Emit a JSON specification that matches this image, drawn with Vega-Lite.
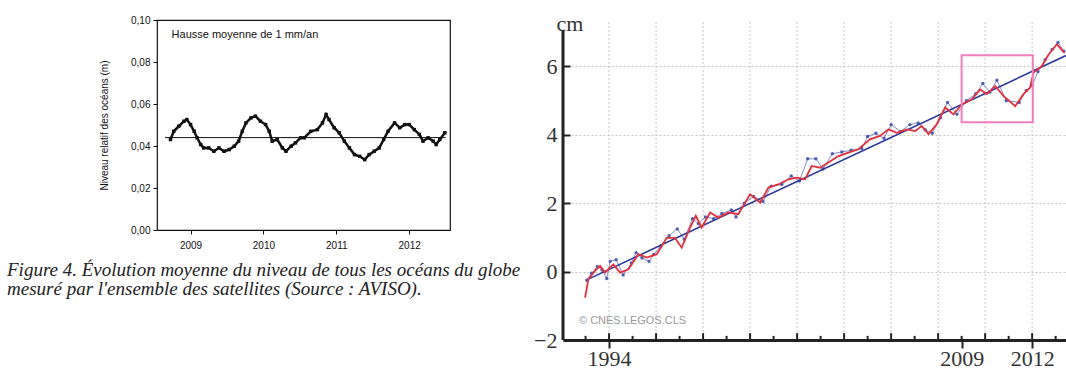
{
  "$schema": "https://vega.github.io/schema/vega-lite/v6.json",
  "background": "white",
  "padding": {"left": 6, "top": 12, "right": 0, "bottom": 0},
  "bounds": "flush",
  "spacing": 113,
  "config": {"axisX": {"grid": false}},
  "datasets": {
    "aviso": [
      {"year": 2008.725, "level": 0.0431}, {"year": 2008.77, "level": 0.047}, {"year": 2008.84, "level": 0.0494},
      {"year": 2008.91, "level": 0.0518}, {"year": 2008.95, "level": 0.0526}, {"year": 2009.0, "level": 0.0502},
      {"year": 2009.05, "level": 0.047}, {"year": 2009.09, "level": 0.0439}, {"year": 2009.14, "level": 0.0407},
      {"year": 2009.18, "level": 0.0391}, {"year": 2009.25, "level": 0.0391}, {"year": 2009.32, "level": 0.0375},
      {"year": 2009.39, "level": 0.0391}, {"year": 2009.46, "level": 0.0375}, {"year": 2009.53, "level": 0.0383},
      {"year": 2009.6, "level": 0.0399}, {"year": 2009.66, "level": 0.0423}, {"year": 2009.71, "level": 0.047},
      {"year": 2009.76, "level": 0.051}, {"year": 2009.83, "level": 0.0534}, {"year": 2009.89, "level": 0.0542},
      {"year": 2009.96, "level": 0.0518}, {"year": 2010.03, "level": 0.0502}, {"year": 2010.08, "level": 0.047},
      {"year": 2010.12, "level": 0.0423}, {"year": 2010.19, "level": 0.0431}, {"year": 2010.26, "level": 0.0391},
      {"year": 2010.31, "level": 0.0375}, {"year": 2010.38, "level": 0.0399}, {"year": 2010.44, "level": 0.0415},
      {"year": 2010.51, "level": 0.0439}, {"year": 2010.56, "level": 0.0439}, {"year": 2010.65, "level": 0.047},
      {"year": 2010.74, "level": 0.0478}, {"year": 2010.81, "level": 0.051}, {"year": 2010.86, "level": 0.055},
      {"year": 2010.9, "level": 0.0526}, {"year": 2010.97, "level": 0.0487}, {"year": 2011.04, "level": 0.0463},
      {"year": 2011.11, "level": 0.0423}, {"year": 2011.18, "level": 0.0391}, {"year": 2011.25, "level": 0.0359},
      {"year": 2011.32, "level": 0.0351}, {"year": 2011.39, "level": 0.0335}, {"year": 2011.45, "level": 0.0359},
      {"year": 2011.52, "level": 0.0375}, {"year": 2011.59, "level": 0.0391}, {"year": 2011.65, "level": 0.0431},
      {"year": 2011.71, "level": 0.047}, {"year": 2011.8, "level": 0.051}, {"year": 2011.87, "level": 0.0487},
      {"year": 2011.94, "level": 0.0502}, {"year": 2012.0, "level": 0.0502}, {"year": 2012.07, "level": 0.0478},
      {"year": 2012.14, "level": 0.0455}, {"year": 2012.19, "level": 0.0423}, {"year": 2012.26, "level": 0.0439},
      {"year": 2012.33, "level": 0.0423}, {"year": 2012.37, "level": 0.0407}, {"year": 2012.42, "level": 0.0431},
      {"year": 2012.49, "level": 0.0463}
    ],
    "smooth": [
      {"year": 1992.98, "cm": -0.76}, {"year": 1993.12, "cm": -0.22}, {"year": 1993.4, "cm": 0.02},
      {"year": 1993.62, "cm": 0.17}, {"year": 1993.83, "cm": -0.03}, {"year": 1994.18, "cm": 0.21},
      {"year": 1994.47, "cm": -0.03}, {"year": 1994.82, "cm": 0.07}, {"year": 1995.25, "cm": 0.51},
      {"year": 1995.6, "cm": 0.41}, {"year": 1996.03, "cm": 0.51}, {"year": 1996.45, "cm": 0.99},
      {"year": 1996.8, "cm": 0.99}, {"year": 1997.09, "cm": 0.7}, {"year": 1997.45, "cm": 1.29},
      {"year": 1997.69, "cm": 1.63}, {"year": 1997.94, "cm": 1.29}, {"year": 1998.3, "cm": 1.73},
      {"year": 1998.65, "cm": 1.58}, {"year": 1999.08, "cm": 1.73}, {"year": 1999.5, "cm": 1.68},
      {"year": 2000.0, "cm": 2.26}, {"year": 2000.43, "cm": 2.02}, {"year": 2000.78, "cm": 2.46},
      {"year": 2001.2, "cm": 2.55}, {"year": 2001.63, "cm": 2.7}, {"year": 2001.99, "cm": 2.75},
      {"year": 2002.34, "cm": 2.7}, {"year": 2002.62, "cm": 3.09}, {"year": 2002.98, "cm": 3.04},
      {"year": 2003.33, "cm": 3.19}, {"year": 2003.76, "cm": 3.38}, {"year": 2004.18, "cm": 3.48},
      {"year": 2004.61, "cm": 3.58}, {"year": 2005.1, "cm": 3.87}, {"year": 2005.53, "cm": 3.97},
      {"year": 2005.89, "cm": 4.16}, {"year": 2006.24, "cm": 4.06}, {"year": 2006.67, "cm": 4.16},
      {"year": 2007.02, "cm": 4.11}, {"year": 2007.3, "cm": 4.26}, {"year": 2007.59, "cm": 4.02},
      {"year": 2007.94, "cm": 4.31}, {"year": 2008.3, "cm": 4.8}, {"year": 2008.65, "cm": 4.6},
      {"year": 2009.01, "cm": 4.89}, {"year": 2009.43, "cm": 5.04}, {"year": 2009.79, "cm": 5.33},
      {"year": 2010.07, "cm": 5.19}, {"year": 2010.43, "cm": 5.43}, {"year": 2010.78, "cm": 5.14},
      {"year": 2011.28, "cm": 4.84}, {"year": 2011.63, "cm": 5.19}, {"year": 2011.91, "cm": 5.38},
      {"year": 2012.06, "cm": 5.82}, {"year": 2012.41, "cm": 6.01}, {"year": 2012.7, "cm": 6.35},
      {"year": 2013.05, "cm": 6.65}, {"year": 2013.38, "cm": 6.4}
    ],
    "raw": [
      {"year": 1993.05, "cm": -0.25}, {"year": 1993.25, "cm": -0.05}, {"year": 1993.5, "cm": 0.15},
      {"year": 1993.7, "cm": 0.05}, {"year": 1993.9, "cm": -0.2}, {"year": 1994.05, "cm": 0.3},
      {"year": 1994.3, "cm": 0.35}, {"year": 1994.6, "cm": -0.1}, {"year": 1994.95, "cm": 0.25},
      {"year": 1995.15, "cm": 0.55}, {"year": 1995.4, "cm": 0.4}, {"year": 1995.7, "cm": 0.3},
      {"year": 1995.9, "cm": 0.5}, {"year": 1996.2, "cm": 0.75}, {"year": 1996.55, "cm": 1.05},
      {"year": 1996.9, "cm": 1.25}, {"year": 1997.2, "cm": 0.95}, {"year": 1997.55, "cm": 1.55},
      {"year": 1997.8, "cm": 1.4}, {"year": 1998.1, "cm": 1.6}, {"year": 1998.45, "cm": 1.55},
      {"year": 1998.8, "cm": 1.7}, {"year": 1999.2, "cm": 1.8}, {"year": 1999.4, "cm": 1.6},
      {"year": 1999.75, "cm": 2.0}, {"year": 2000.15, "cm": 2.2}, {"year": 2000.55, "cm": 2.05},
      {"year": 2000.9, "cm": 2.5}, {"year": 2001.35, "cm": 2.55}, {"year": 2001.75, "cm": 2.8},
      {"year": 2002.1, "cm": 2.65}, {"year": 2002.45, "cm": 3.3}, {"year": 2002.8, "cm": 3.3},
      {"year": 2003.1, "cm": 3.0}, {"year": 2003.5, "cm": 3.45}, {"year": 2003.9, "cm": 3.5},
      {"year": 2004.3, "cm": 3.55}, {"year": 2004.75, "cm": 3.6}, {"year": 2005.0, "cm": 3.95},
      {"year": 2005.35, "cm": 4.05}, {"year": 2005.7, "cm": 3.9}, {"year": 2006.0, "cm": 4.3},
      {"year": 2006.4, "cm": 4.1}, {"year": 2006.8, "cm": 4.3}, {"year": 2007.15, "cm": 4.35},
      {"year": 2007.45, "cm": 4.15}, {"year": 2007.75, "cm": 4.05}, {"year": 2008.1, "cm": 4.5},
      {"year": 2008.4, "cm": 4.95}, {"year": 2008.8, "cm": 4.6}, {"year": 2009.2, "cm": 5.0},
      {"year": 2009.6, "cm": 5.2}, {"year": 2009.9, "cm": 5.5}, {"year": 2010.2, "cm": 5.25},
      {"year": 2010.5, "cm": 5.6}, {"year": 2010.9, "cm": 5.0}, {"year": 2011.45, "cm": 4.95},
      {"year": 2011.75, "cm": 5.3}, {"year": 2012.0, "cm": 5.45}, {"year": 2012.25, "cm": 5.85},
      {"year": 2012.55, "cm": 6.2}, {"year": 2012.85, "cm": 6.5}, {"year": 2013.1, "cm": 6.7},
      {"year": 2013.35, "cm": 6.45}
    ],
    "trend": [
      {"year": 1993.12, "cm": -0.22}, {"year": 2013.44, "cm": 6.32}
    ],
    "years": [
      {"year": 1993}, {"year": 1994}, {"year": 1995}, {"year": 1996}, {"year": 1997}, {"year": 1998}, {"year": 1999},
      {"year": 2000}, {"year": 2001}, {"year": 2002}, {"year": 2003}, {"year": 2004}, {"year": 2005}, {"year": 2006},
      {"year": 2007}, {"year": 2008}, {"year": 2009}, {"year": 2010}, {"year": 2011}, {"year": 2012}, {"year": 2013}
    ]
  },
  "hconcat": [
    {
      "width": 293,
      "height": 210,
      "view": {"stroke": "#111", "strokeWidth": 1.2, "fill": "white"},
      "title": {
        "text": ["Figure 4. Évolution moyenne du niveau de tous les océans du globe", "mesuré par l'ensemble des satellites (Source : AVISO)."],
        "orient": "bottom",
        "anchor": "start",
        "frame": "group",
        "dx": -150,
        "offset": 11,
        "font": "Liberation Serif",
        "fontStyle": "italic",
        "fontWeight": "normal",
        "fontSize": 19,
        "lineHeight": 19,
        "color": "#222"
      },
      "layer": [
        {
          "data": {"name": "aviso"},
          "mark": {"type": "line", "color": "#111", "strokeWidth": 2.5},
          "encoding": {
            "x": {"field": "year", "type": "quantitative", "scale": {"domain": [2008.54, 2012.56], "nice": false, "zero": false},
              "axis": {"values": [2009, 2010, 2011, 2012], "format": "d", "title": null, "grid": false, "tickSize": 4, "tickColor": "#111", "domain": false,
                "labelFont": "Liberation Sans", "labelFontSize": 10, "labelColor": "#111", "labelPadding": 6}},
            "y": {"field": "level", "type": "quantitative", "scale": {"domain": [0, 0.1], "nice": false},
              "axis": {"values": [0, 0.02, 0.04, 0.06, 0.08, 0.1], "labelExpr": "replace(format(datum.value, '.2f'), '.', ',')", "grid": false,
                "tickSize": 4, "tickColor": "#111", "domain": false, "labelFont": "Liberation Sans", "labelFontSize": 10, "labelColor": "#111", "labelPadding": 3,
                "title": "Niveau relatif des océans (m)", "titleFont": "Liberation Sans", "titleFontSize": 10, "titleFontWeight": "normal", "titleColor": "#111", "titlePadding": 21}}
          }
        },
        {
          "data": {"name": "aviso"},
          "mark": {"type": "point", "shape": "square", "filled": true, "color": "#111", "size": 12, "opacity": 1},
          "encoding": {
            "x": {"field": "year", "type": "quantitative"},
            "y": {"field": "level", "type": "quantitative"}
          }
        },
        {
          "data": {"values": [{}]},
          "mark": {"type": "rule", "color": "#111", "strokeWidth": 1},
          "encoding": {
            "x": {"datum": 2008.65},
            "x2": {"datum": 2012.5},
            "y": {"datum": 0.044}
          }
        },
        {
          "data": {"values": [{}]},
          "mark": {"type": "text", "align": "left", "baseline": "middle", "font": "Liberation Sans", "fontSize": 11, "color": "#111"},
          "encoding": {
            "x": {"datum": 2008.74},
            "y": {"datum": 0.093},
            "text": {"value": "Hausse moyenne de 1 mm/an"}
          }
        }
      ]
    },
    {
      "width": 503,
      "height": 320,
      "view": {"stroke": null, "fill": "white"},
      "layer": [
        {
          "data": {"name": "years"},
          "transform": [{"filter": "datum.year % 2 == 0"}],
          "mark": {"type": "rule", "color": "#c4c4c4", "strokeWidth": 1, "strokeDash": [2, 2]},
          "encoding": {
            "x": {"field": "year", "type": "quantitative", "scale": {"domain": [1992.04, 2013.44], "nice": false, "zero": false},
              "axis": {
                "values": [1994, 2009, 2012],
                "format": "d",
                "labelOverlap": false,
                "title": null,
                "grid": false,
                "domain": true, "domainColor": "#222", "domainWidth": 3,
                "tickColor": "#222", "tickWidth": 2, "tickSize": 8,
                "labelFont": "Liberation Serif", "labelFontSize": 22, "labelColor": "#333", "labelPadding": 0
              }},
            "y": {"datum": -2},
            "y2": {"datum": 7.36}
          }
        },
        {
          "data": {"name": "raw"},
          "mark": {"type": "line", "color": "#3a4aa8", "strokeWidth": 0.9, "opacity": 0.7},
          "encoding": {
            "x": {"field": "year", "type": "quantitative"},
            "y": {"field": "cm", "type": "quantitative", "scale": {"domain": [-2, 7.36], "nice": false, "zero": false},
              "axis": {
                "values": [-2, -1.5, -1, -0.5, 0, 0.5, 1, 1.5, 2, 2.5, 3, 3.5, 4, 4.5, 5, 5.5, 6, 6.5, 7],
                "labelExpr": "datum.value % 2 == 0 ? format(datum.value, 'd') : ''",
                "labelOverlap": false,
                "domain": false,
                "tickColor": "#222", "tickWidth": 2,
                "tickSize": {"condition": {"test": "datum.value % 1 == 0", "value": -7}, "value": -4},
                "grid": true, "gridColor": "#c4c4c4", "gridDash": [2, 2], "gridWidth": 1,
                "gridOpacity": {"condition": {"test": "datum.value % 1 == 0 && datum.value > -2", "value": 1}, "value": 0},
                "labelFont": "Liberation Serif", "labelFontSize": 22, "labelColor": "#333", "labelPadding": 13,
                "title": "cm", "titleFont": "Liberation Serif", "titleFontSize": 22, "titleFontWeight": "normal", "titleColor": "#333",
                "titleAngle": 0, "titleAlign": "left", "titleBaseline": "alphabetic", "titleX": -7, "titleY": 10
              }}
          }
        },
        {
          "data": {"name": "years"},
          "transform": [{"filter": "datum.year % 2 == 0"}],
          "mark": {"type": "rule", "color": "#222", "strokeWidth": 2},
          "encoding": {
            "x": {"field": "year", "type": "quantitative"},
            "y": {"datum": -2},
            "y2": {"datum": -1.8}
          }
        },
        {
          "data": {"name": "years"},
          "transform": [{"filter": "datum.year % 2 == 1"}],
          "mark": {"type": "rule", "color": "#222", "strokeWidth": 2},
          "encoding": {
            "x": {"field": "year", "type": "quantitative"},
            "y": {"datum": -2},
            "y2": {"datum": -1.88}
          }
        },
        {
          "data": {"name": "raw"},
          "mark": {"type": "point", "filled": true, "color": "#3a4aa8", "size": 12, "opacity": 0.85},
          "encoding": {
            "x": {"field": "year", "type": "quantitative"},
            "y": {"field": "cm", "type": "quantitative"}
          }
        },
        {
          "data": {"name": "trend"},
          "mark": {"type": "line", "color": "#2b3a9c", "strokeWidth": 1.6},
          "encoding": {
            "x": {"field": "year", "type": "quantitative"},
            "y": {"field": "cm", "type": "quantitative"}
          }
        },
        {
          "data": {"name": "smooth"},
          "mark": {"type": "line", "color": "#e3303b", "strokeWidth": 1.8},
          "encoding": {
            "x": {"field": "year", "type": "quantitative"},
            "y": {"field": "cm", "type": "quantitative"}
          }
        },
        {
          "data": {"values": [{}]},
          "mark": {"type": "rect", "fill": null, "fillOpacity": 0, "stroke": "#f27fbf", "strokeWidth": 2},
          "encoding": {
            "x": {"datum": 2009.0},
            "x2": {"datum": 2012.03},
            "y": {"datum": 4.37},
            "y2": {"datum": 6.33}
          }
        },
        {
          "data": {"values": [{}]},
          "mark": {"type": "rule", "color": "#222", "strokeWidth": 3},
          "encoding": {
            "x": {"datum": 1992.04},
            "y": {"datum": -2},
            "y2": {"datum": 7.05}
          }
        },
        {
          "data": {"values": [{}]},
          "mark": {"type": "text", "align": "left", "baseline": "middle", "font": "Liberation Sans", "fontSize": 11, "color": "#9a9a9a"},
          "encoding": {
            "x": {"datum": 1992.72},
            "y": {"datum": -1.45},
            "text": {"value": "© CNES.LEGOS.CLS"}
          }
        }
      ]
    }
  ]
}
